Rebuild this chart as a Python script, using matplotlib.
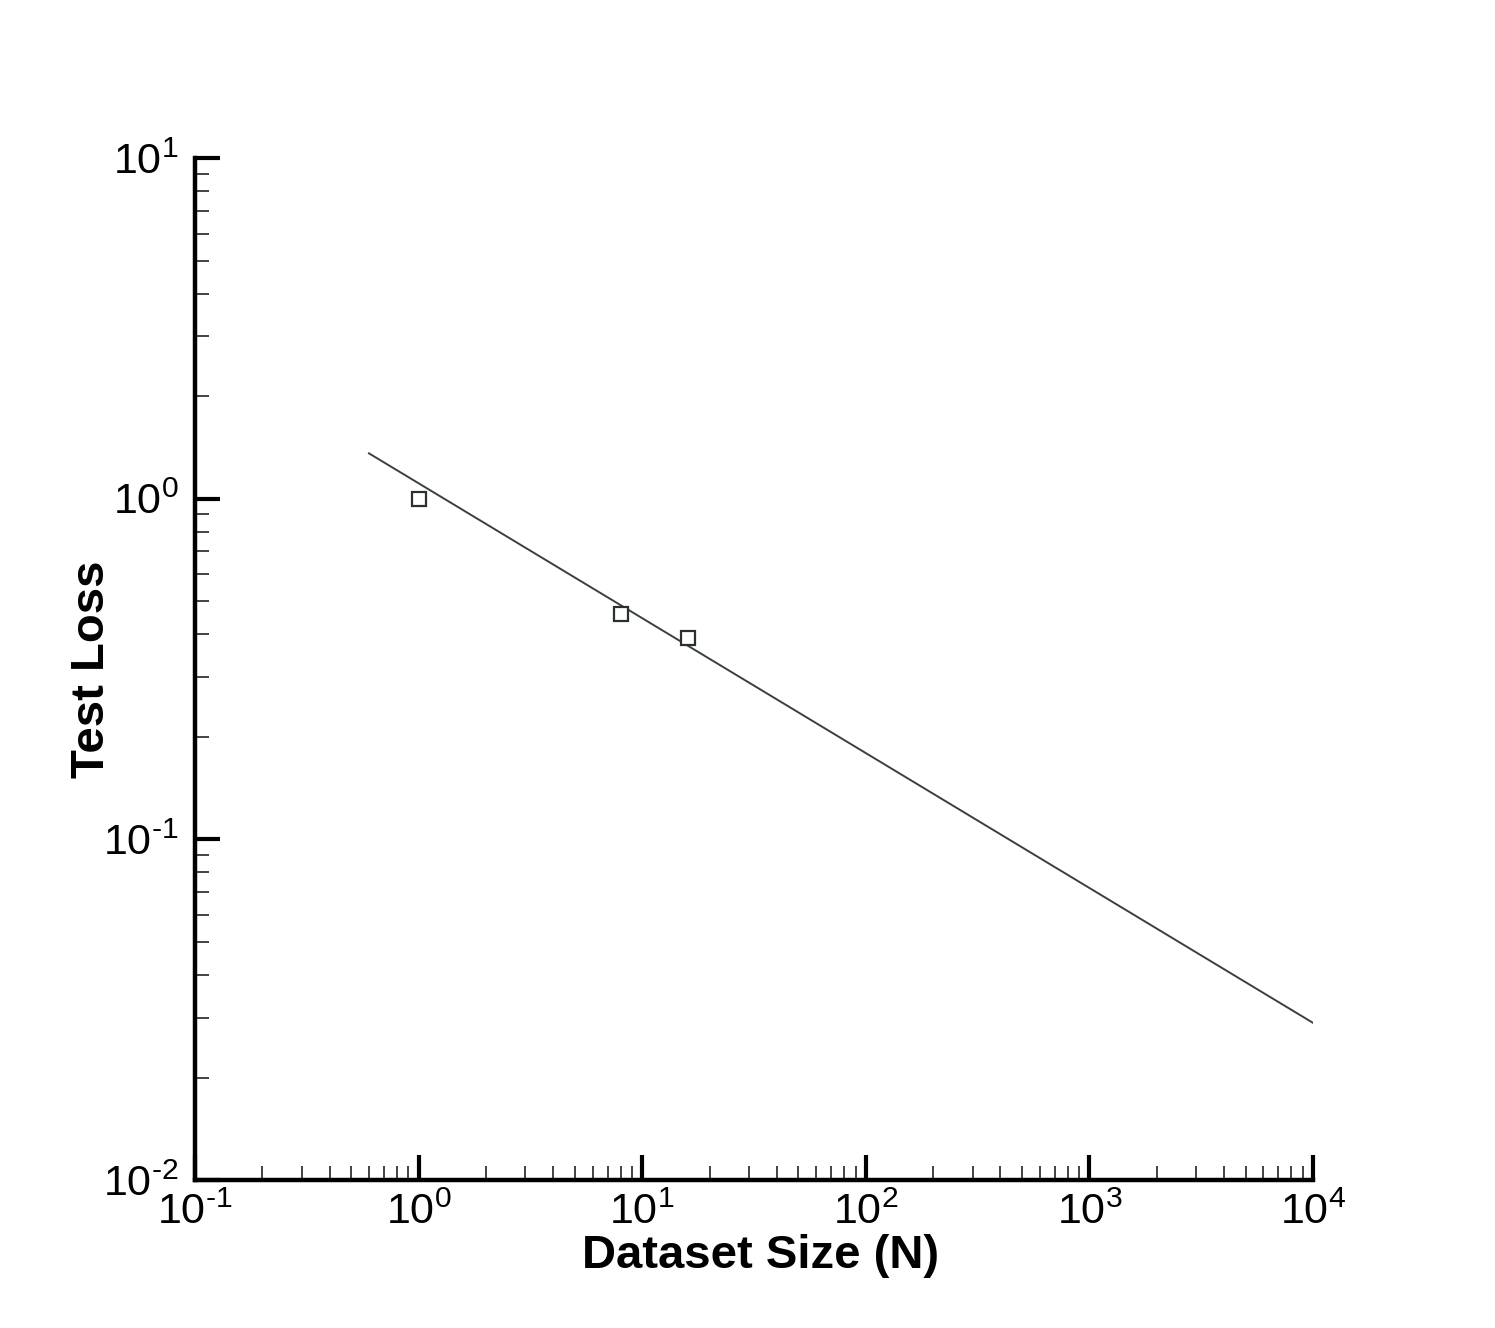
import numpy as np
import matplotlib
matplotlib.use("Agg")
import matplotlib.pyplot as plt
from matplotlib.ticker import LogLocator, FixedLocator, FuncFormatter, NullFormatter

plt.rcParams['font.family'] = ['Liberation Sans', 'DejaVu Sans']
plt.rcParams['mathtext.fontset'] = 'custom'
plt.rcParams['mathtext.rm'] = 'Liberation Sans'
plt.rcParams['mathtext.it'] = 'Liberation Sans:italic'
plt.rcParams['mathtext.bf'] = 'Liberation Sans:bold'

# Data
dataset_size = [1, 8, 16]
test_loss = [1.0, 0.458, 0.39]

# Power-law fit: loss = fit_coef * N ** fit_exp
fit_coef = 1.11
fit_exp = -0.396
fit_range = [0.6, 1e4]

x_major = [1e-1, 1e0, 1e1, 1e2, 1e3, 1e4]
y_major = [1e-2, 1e-1, 1e0, 1e1]

fig = plt.figure(figsize=(14.95, 13.28), dpi=100)
ax = fig.add_axes([0.1304, 0.1114, 0.7479, 0.7696])

fx = np.array(fit_range)
fy = fit_coef * fx ** fit_exp
ax.plot(fx, fy, color='#3a4040', lw=1.4)
ax.plot(dataset_size, test_loss, ls='none', marker='s', ms=10, mfc='white',
        mec='#2a3030', mew=1.6)

ax.set_xscale('log')
ax.set_yscale('log')
ax.set_xlim(1e-1, 1e4)
ax.set_ylim(1e-2, 1e1)

for s in ['top', 'right']:
    ax.spines[s].set_visible(False)
for s in ['left', 'bottom']:
    ax.spines[s].set_linewidth(3.2)
    ax.spines[s].set_color('black')


def pow_label(v, p):
    e = int(round(np.log10(v)))
    return r'$\mathregular{10^{\text{%d}}}$' % e


fmt = FuncFormatter(pow_label)
ax.xaxis.set_major_locator(FixedLocator(x_major))
ax.yaxis.set_major_locator(FixedLocator(y_major))
ax.xaxis.set_major_formatter(fmt)
ax.yaxis.set_major_formatter(fmt)
ax.xaxis.set_minor_locator(LogLocator(base=10, subs=np.arange(2, 10), numticks=20))
ax.yaxis.set_minor_locator(LogLocator(base=10, subs=np.arange(2, 10), numticks=20))
ax.xaxis.set_minor_formatter(NullFormatter())
ax.yaxis.set_minor_formatter(NullFormatter())

ax.tick_params(which='major', direction='in', length=18, width=3.0, labelsize=31,
               color='black', pad=9)
ax.tick_params(axis='y', which='major', pad=12)
ax.tick_params(which='minor', direction='in', length=10, width=1.2, color='#222222')

ax.set_xlabel('Dataset Size (N)', fontsize=34, fontweight='bold')
ax.set_ylabel('Test Loss', fontsize=34, fontweight='bold')
ax.xaxis.set_label_coords(0.506, -0.053)
ax.yaxis.set_label_coords(-0.072, 0.5)

fig.savefig('out.png', dpi=100, facecolor='white')
